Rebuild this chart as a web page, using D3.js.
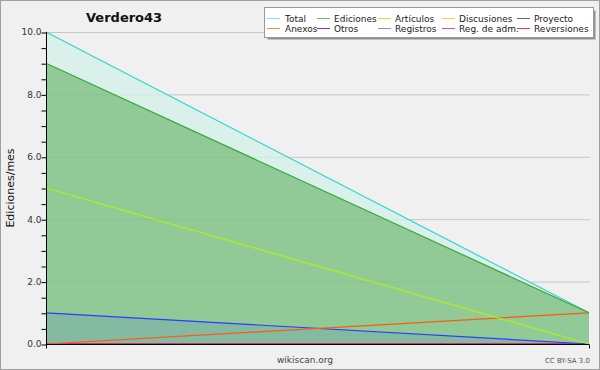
<!DOCTYPE html>
<html>
<head>
<meta charset="utf-8">
<script src="https://cdn.jsdelivr.net/npm/d3@7"></script>
<style>
  body { margin: 0; background: #f0f0f0; }
  svg { display: block; font-family: "DejaVu Sans", sans-serif; }
</style>
</head>
<body>
<div class="chart"></div>
<script>
const FRAME_WIDTH = 600;
const FRAME_HEIGHT = 370;
const MARGINS = {left: 46, right: 11, top: 32, bottom: 26};

// data
const MONTHS = ["2023-01", "2023-02"];
const TOTAL = [10, 1];
const EDICIONES = [9, 1];
const ARTICULOS = [5, 0];
const DISCUSIONES = [0, 0];
const PROYECTO = [0, 0];
const ANEXOS = [0, 1];
const OTROS = [0, 0];
const REGISTROS = [1, 0];
const REG_ADM = [0, 0];
const REVERSIONES = [0, 0];
const Y_TICKS = [0, 2, 4, 6, 8, 10];

const LEGEND = [
  {name: "Total", color: "#8ce4e0"},
  {name: "Ediciones", color: "#66c466"},
  {name: "Artículos", color: "#c4f020"},
  {name: "Discusiones", color: "#ffd030"},
  {name: "Proyecto", color: "#666666"},
  {name: "Anexos", color: "#ff8844"},
  {name: "Otros", color: "#8830e0"},
  {name: "Registros", color: "#8888ff"},
  {name: "Reg. de adm.", color: "#e044f0"},
  {name: "Reversiones", color: "#ff3333"}
];

const PLOT_W = FRAME_WIDTH - MARGINS.left - MARGINS.right;
const PLOT_H = FRAME_HEIGHT - MARGINS.top - MARGINS.bottom;

const FRAME = d3.select(".chart")
  .append("svg")
  .attr("width", FRAME_WIDTH)
  .attr("height", FRAME_HEIGHT);

FRAME.append("rect")
  .attr("x", 0.5).attr("y", 0.5)
  .attr("width", FRAME_WIDTH - 1).attr("height", FRAME_HEIGHT - 1)
  .attr("fill", "#f0f0f0")
  .attr("stroke", "#a0a0a0");

const X_SCALE = d3.scalePoint().domain(MONTHS).range([0, PLOT_W]);
const Y_SCALE = d3.scaleLinear().domain([0, 10]).range([PLOT_H, 0]);

const PLOT = FRAME.append("g")
  .attr("transform", "translate(" + MARGINS.left + "," + MARGINS.top + ")");

// grid
PLOT.selectAll(".grid")
  .data(Y_TICKS.filter(d => d > 0))
  .enter().append("line")
  .attr("x1", 0).attr("x2", PLOT_W + 1)
  .attr("y1", d => Y_SCALE(d) + 0.5).attr("y2", d => Y_SCALE(d) + 0.5)
  .attr("stroke", "#cfcfcf");

function area(vals) {
  return d3.area()
    .x((d, i) => X_SCALE(MONTHS[i]))
    .y0(Y_SCALE(0))
    .y1(d => Y_SCALE(d))(vals);
}
function line(vals) {
  return d3.line()
    .x((d, i) => X_SCALE(MONTHS[i]))
    .y(d => Y_SCALE(d))(vals);
}

// filled areas
PLOT.append("path").attr("d", area(TOTAL)).attr("fill", "#d9f1ea");
PLOT.append("path").attr("d", area(EDICIONES)).attr("fill", "#92ca97");
PLOT.append("path").attr("d", area(REGISTROS)).attr("fill", "#4a7ccc").attr("fill-opacity", 0.2);

// grid lines seen through the fills
PLOT.selectAll(".grid2")
  .data(Y_TICKS.filter(d => d > 0))
  .enter().append("line")
  .attr("x1", 0).attr("x2", PLOT_W)
  .attr("y1", d => Y_SCALE(d) + 0.5).attr("y2", d => Y_SCALE(d) + 0.5)
  .attr("stroke", "#000").attr("stroke-opacity", 0.04);

const LINES = [
  {vals: DISCUSIONES, color: "#ffc000"},
  {vals: PROYECTO, color: "#555555"},
  {vals: OTROS, color: "#7020d0"},
  {vals: REG_ADM, color: "#d030e0"},
  {vals: REVERSIONES, color: "#ff2020"},
  {vals: REGISTROS, color: "#2a3cff"},
  {vals: ANEXOS, color: "#ff5a10"},
  {vals: ARTICULOS, color: "#b4f010"},
  {vals: TOTAL, color: "#30d4d0"},
  {vals: EDICIONES, color: "#3aa83a"}
];
LINES.forEach(s => {
  PLOT.append("path")
    .attr("d", line(s.vals))
    .attr("fill", "none")
    .attr("stroke", s.color)
    .attr("stroke-width", 1.2);
});

// y axis
const yAxis = PLOT.append("g")
  .attr("transform", "translate(0.5,0)")
  .call(d3.axisLeft(Y_SCALE).tickValues(d3.range(0, 10.01, 0.5)).tickSize(5)
    .tickFormat(d => Y_TICKS.includes(d) ? d3.format(".1f")(d) : ""));
yAxis.select(".domain").attr("stroke", "#000").attr("d", "M0," + PLOT_H + "V0");
yAxis.selectAll("text").attr("font-size", "9px").attr("fill", "#333")
  .attr("font-family", "DejaVu Sans, sans-serif").attr("x", -5);
yAxis.selectAll("line").attr("transform", "translate(0,0.5)");

// x axis
const xAxis = PLOT.append("g")
  .attr("transform", "translate(0," + (PLOT_H + 0.5) + ")")
  .call(d3.axisBottom(X_SCALE).tickSize(4).tickFormat(""));
xAxis.select(".domain").attr("stroke", "#000").attr("d", "M0,0H" + PLOT_W);

// titles
FRAME.append("text")
  .attr("x", 86).attr("y", 22)
  .attr("font-size", "13px").attr("font-weight", "bold")
  .attr("fill", "#111")
  .text("Verdero43");

FRAME.append("text")
  .attr("transform", "translate(14," + (MARGINS.top + PLOT_H / 2) + ") rotate(-90)")
  .attr("text-anchor", "middle")
  .attr("font-size", "11px")
  .attr("fill", "#111")
  .text("Ediciones/mes");

FRAME.append("text")
  .attr("x", 305).attr("y", 363)
  .attr("text-anchor", "middle")
  .attr("font-size", "9px").attr("fill", "#444")
  .text("wikiscan.org");

FRAME.append("text")
  .attr("x", 590).attr("y", 363)
  .attr("text-anchor", "end")
  .attr("font-size", "7px").attr("fill", "#555")
  .text("CC BY-SA 3.0");

// legend
const LEG = FRAME.append("g");
LEG.append("rect").attr("x", 267.5).attr("y", 10.5).attr("width", 328).attr("height", 29)
  .attr("fill", "#909090");
LEG.append("rect").attr("x", 264.5).attr("y", 7.5).attr("width", 329).attr("height", 30)
  .attr("fill", "#fff").attr("stroke", "#999");
const COL_X = [267, 317, 378, 442, 517];
LEGEND.forEach((d, i) => {
  const cx = COL_X[i % 5];
  const cy = i < 5 ? 18 : 28;
  LEG.append("line")
    .attr("x1", cx).attr("x2", cx + 13)
    .attr("y1", cy + 0.5).attr("y2", cy + 0.5)
    .attr("stroke", d.color);
  LEG.append("text")
    .attr("x", cx + 17 + (i % 5 === 0 ? 1 : 0)).attr("y", cy + 4)
    .attr("font-size", "9px").attr("fill", "#222")
    .text(d.name);
});
</script>
</body>
</html>
